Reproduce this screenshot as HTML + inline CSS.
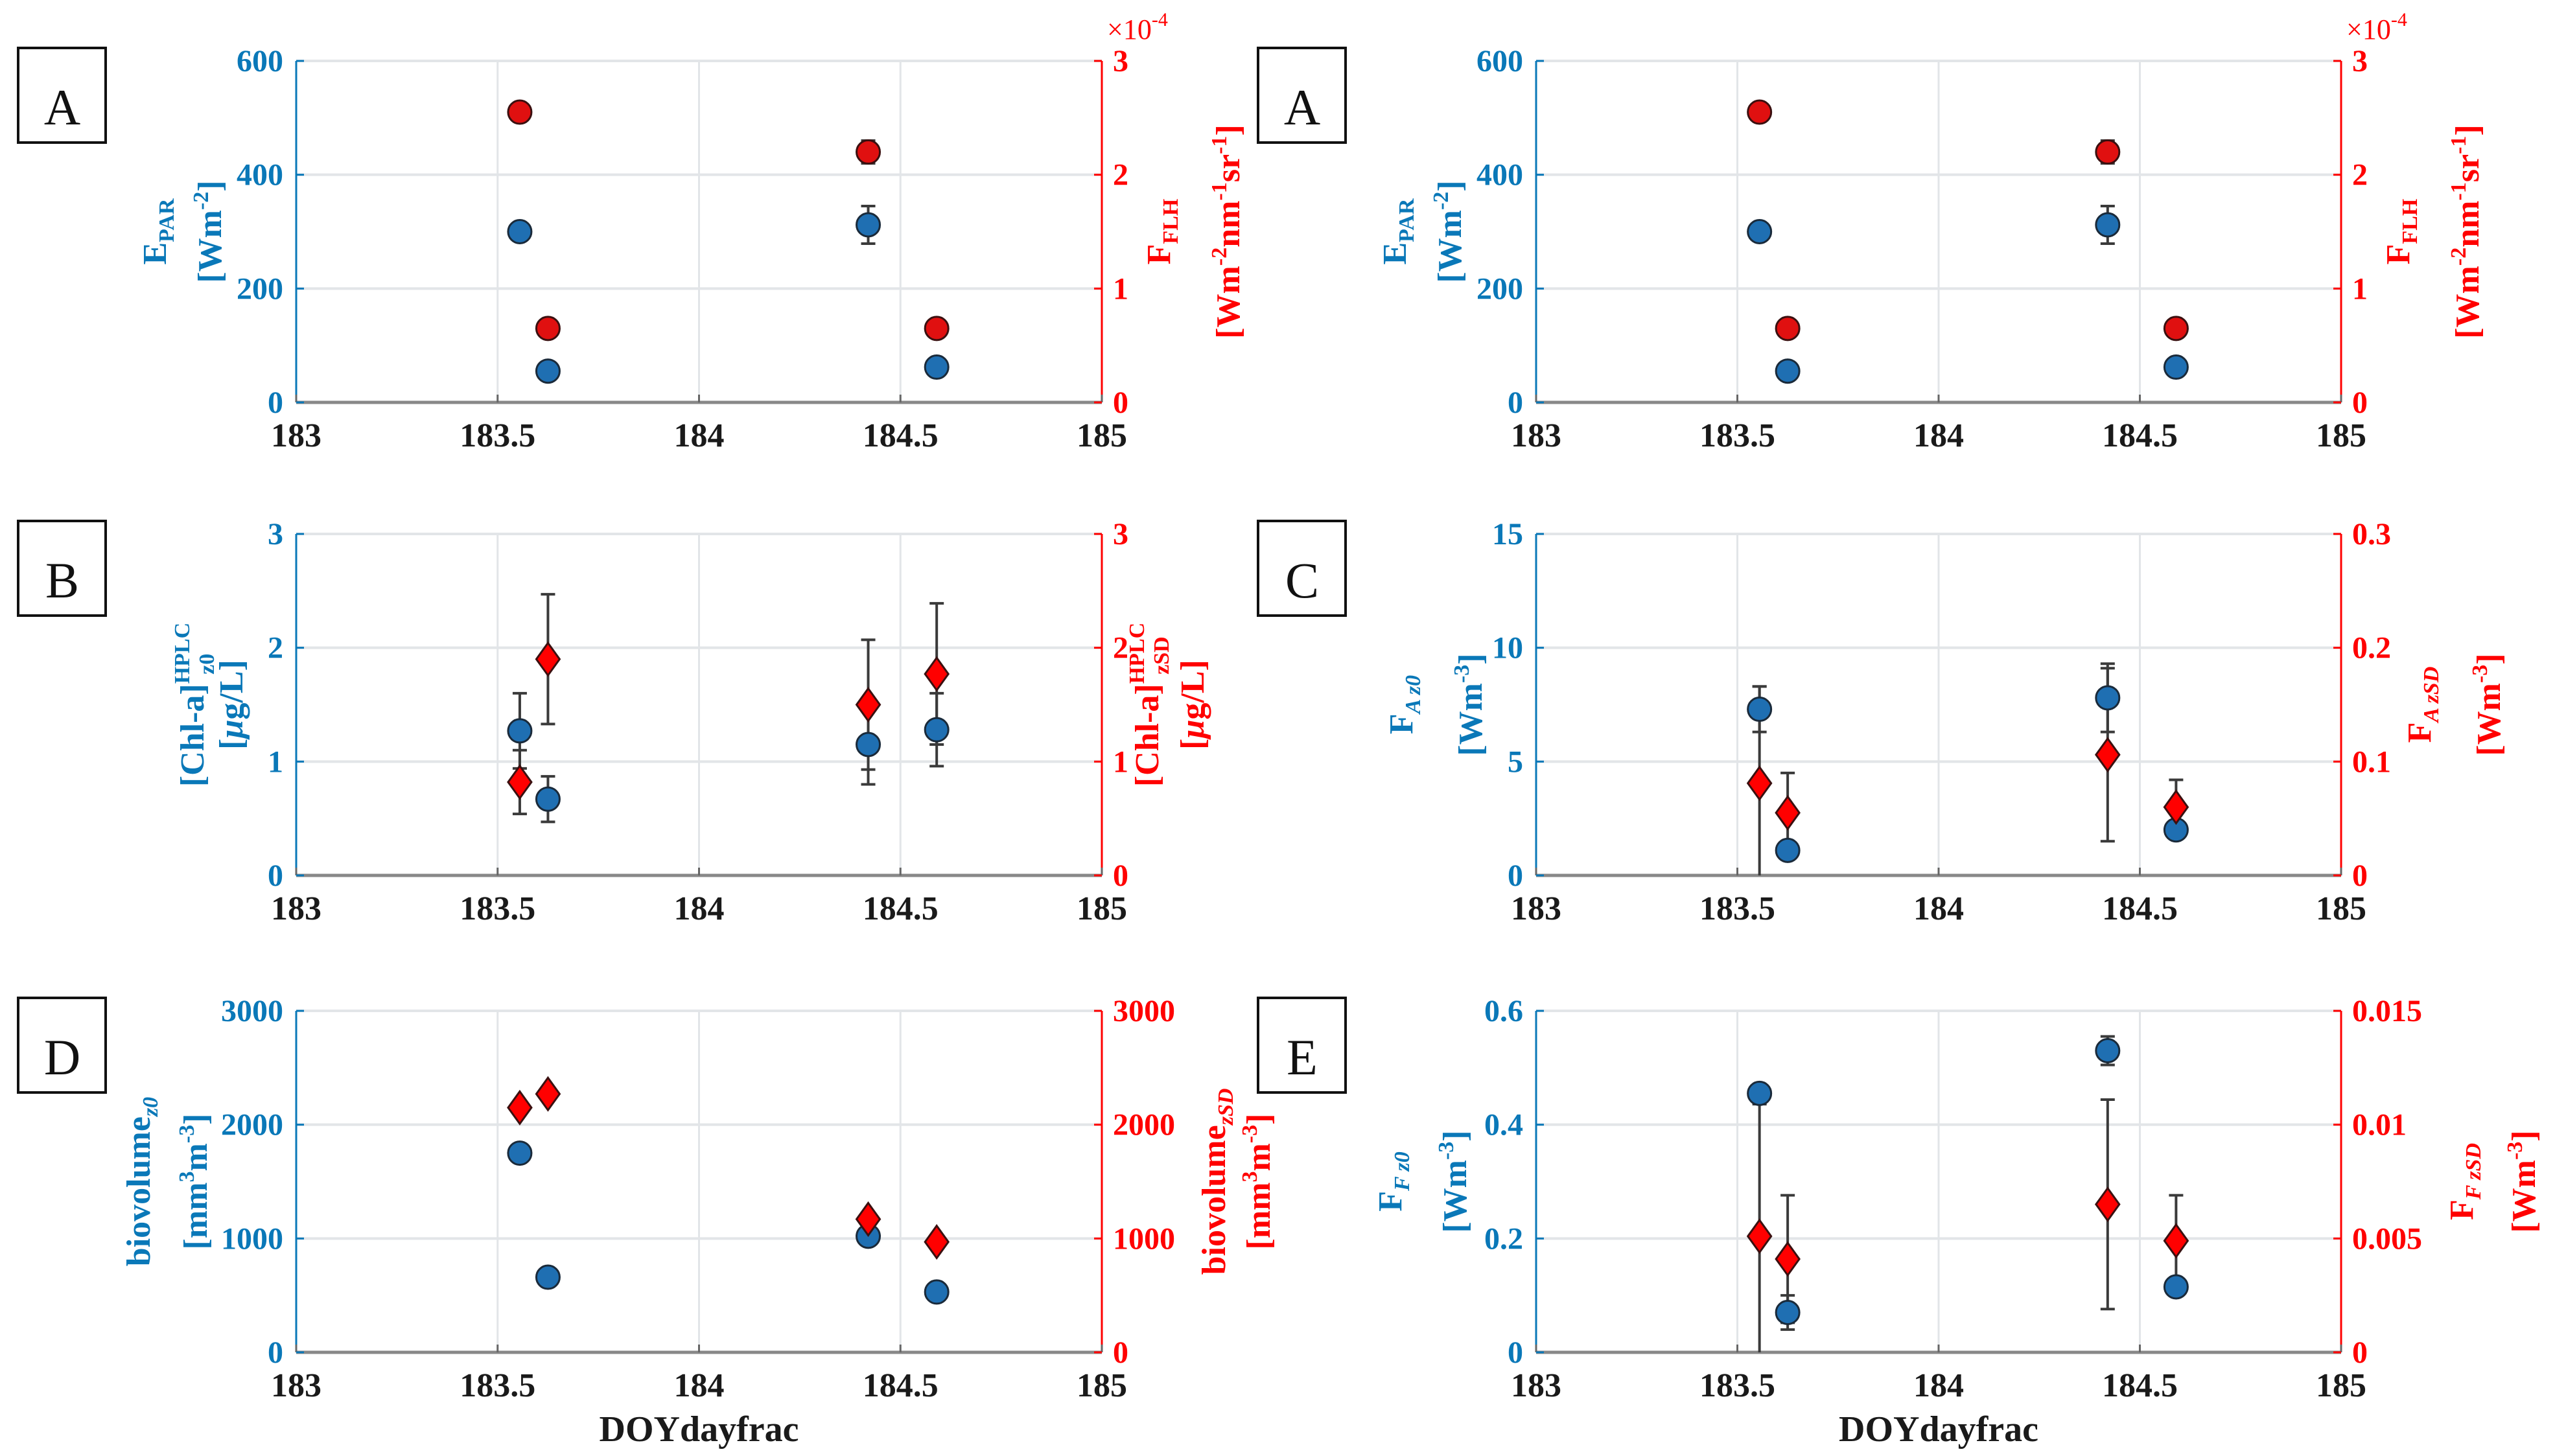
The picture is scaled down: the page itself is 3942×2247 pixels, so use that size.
<!DOCTYPE html>
<html>
<head>
<meta charset="utf-8">
<style>
html,body{margin:0;padding:0;background:#fff;}
svg{display:block;}
svg text{font-family:"Liberation Serif","Times New Roman",serif;}
</style>
</head>
<body>
<svg id="fig" xmlns="http://www.w3.org/2000/svg" width="3942" height="2247" viewBox="0 0 3942 2247" font-family="Liberation Serif, serif">
<rect x="0" y="0" width="3942" height="2247" fill="#ffffff"/>
</svg>
<script>
// ---------- data ----------
const xCats = [183.555, 183.625, 184.42, 184.59];
const xTicks = [183, 183.5, 184, 184.5, 185];
const xTickLabels = ["183", "183.5", "184", "184.5", "185"];

// Panel A (E_PAR, F_FLH)
const aBlueVals = [300, 55, 312, 62];
const aBlueErr = [0, 0, 33, 0];
const aRedVals = [2.55, 0.65, 2.2, 0.65];
const aRedErr = [0, 0, 0.1, 0];
const aLeftTicks = [0, 200, 400, 600];
const aRightTicks = [0, 1, 2, 3];

// Panel B (Chl-a)
const bBlueVals = [1.27, 0.67, 1.15, 1.28];
const bBlueErr = [0.33, 0.2, 0.35, 0.32];
const bRedVals = [0.82, 1.9, 1.5, 1.77];
const bRedErr = [0.28, 0.57, 0.57, 0.62];
const bLeftTicks = [0, 1, 2, 3];
const bRightTicks = [0, 1, 2, 3];

// Panel C (F_A)
const cBlueVals = [7.3, 1.1, 7.8, 2.0];
const cBlueErr = [1.0, 0.3, 1.5, 0.3];
const cRedVals = [0.081, 0.055, 0.106, 0.06];
const cRedErr = [0.085, 0.035, 0.076, 0.024];
const cLeftTicks = [0, 5, 10, 15];
const cRightTicks = [0, 0.1, 0.2, 0.3];

// Panel D (biovolume)
const dBlueVals = [1750, 660, 1020, 530];
const dBlueErr = [0, 0, 0, 0];
const dRedVals = [2150, 2270, 1170, 970];
const dRedErr = [0, 0, 0, 0];
const dLeftTicks = [0, 1000, 2000, 3000];
const dRightTicks = [0, 1000, 2000, 3000];

// Panel E (F_F)
const eBlueVals = [0.455, 0.07, 0.53, 0.115];
const eBlueErr = [0, 0.03, 0.025, 0.01];
const eRedVals = [0.0051, 0.0041, 0.0065, 0.0049];
const eRedErr = [0.0058, 0.0028, 0.0046, 0.002];
const eLeftTicks = [0, 0.2, 0.4, 0.6];
const eRightTicks = [0, 0.005, 0.01, 0.015];

// ---------- drawing ----------
const NS = "http://www.w3.org/2000/svg";
const svg = document.getElementById("fig");
const BLUE = "#0a78b8", RED = "#ff0000";
const H = 527;
const FF = '"Liberation Serif", "Times New Roman", serif';

function mk(tag, attrs, parent) {
  const e = document.createElementNS(NS, tag);
  for (const k in attrs) e.setAttribute(k, attrs[k]);
  if (tag === "text") e.style.fontFamily = FF;
  (parent || svg).appendChild(e);
  return e;
}

const panels = [
  {id:"a-left", letter:"A", x0:457, x1:1700, top:94, blue:aBlueVals, blueErr:aBlueErr, red:aRedVals, redErr:aRedErr, lt:aLeftTicks, rt:aRightTicks, redShape:"circle",
   l1:'E<tspan font-size="34" dy="12">PAR</tspan>', l2:'[Wm<tspan font-size="34" dy="-20">-2</tspan><tspan dy="20">]</tspan>',
   r1:'F<tspan font-size="34" dy="12">FLH</tspan>', r2:'[Wm<tspan font-size="34" dy="-20">-2</tspan><tspan dy="20">nm</tspan><tspan font-size="34" dy="-20">-1</tspan><tspan dy="20">sr</tspan><tspan font-size="34" dy="-20">-1</tspan><tspan dy="20">]</tspan>',
   lo:[-218,-133], ro:[88,195], exp:true},
  {id:"a-right", letter:"A", x0:2370, x1:3612, top:94, blue:aBlueVals, blueErr:aBlueErr, red:aRedVals, redErr:aRedErr, lt:aLeftTicks, rt:aRightTicks, redShape:"circle",
   l1:'E<tspan font-size="34" dy="12">PAR</tspan>', l2:'[Wm<tspan font-size="34" dy="-20">-2</tspan><tspan dy="20">]</tspan>',
   r1:'F<tspan font-size="34" dy="12">FLH</tspan>', r2:'[Wm<tspan font-size="34" dy="-20">-2</tspan><tspan dy="20">nm</tspan><tspan font-size="34" dy="-20">-1</tspan><tspan dy="20">sr</tspan><tspan font-size="34" dy="-20">-1</tspan><tspan dy="20">]</tspan>',
   lo:[-218,-133], ro:[88,195], exp:true},
  {id:"b", letter:"B", x0:457, x1:1700, top:824, blue:bBlueVals, blueErr:bBlueErr, red:bRedVals, redErr:bRedErr, lt:bLeftTicks, rt:bRightTicks, redShape:"diamond",
   l1:'[Chl-a]<tspan font-size="34" dy="-22">HPLC</tspan><tspan font-size="34" dx="-80" dy="38">z0</tspan>', l2:'[<tspan font-style="italic">μ</tspan>g/L]',
   r1:'[Chl-a]<tspan font-size="34" dy="-22">HPLC</tspan><tspan font-size="34" dx="-80" dy="38">zSD</tspan>', r2:'[<tspan font-style="italic">μ</tspan>g/L]',
   lo:[-160,-100], ro:[70,140]},
  {id:"c", letter:"C", x0:2370, x1:3612, top:824, blue:cBlueVals, blueErr:cBlueErr, red:cRedVals, redErr:cRedErr, lt:cLeftTicks, rt:cRightTicks, redShape:"diamond",
   l1:'F<tspan font-size="34" dy="12" font-style="italic">A z0</tspan>', l2:'[Wm<tspan font-size="34" dy="-20">-3</tspan><tspan dy="20">]</tspan>',
   r1:'F<tspan font-size="34" dy="12" font-style="italic">A zSD</tspan>', r2:'[Wm<tspan font-size="34" dy="-20">-3</tspan><tspan dy="20">]</tspan>',
   lo:[-208,-101], ro:[121,228]},
  {id:"d", letter:"D", x0:457, x1:1700, top:1560, blue:dBlueVals, blueErr:dBlueErr, red:dRedVals, redErr:dRedErr, lt:dLeftTicks, rt:dRightTicks, redShape:"diamond",
   l1:'biovolume<tspan font-size="34" dy="12" font-style="italic">z0</tspan>', l2:'[mm<tspan font-size="34" dy="-20">3</tspan><tspan dy="20">m</tspan><tspan font-size="34" dy="-20">-3</tspan><tspan dy="20">]</tspan>',
   r1:'biovolume<tspan font-size="34" dy="12" font-style="italic">zSD</tspan>', r2:'[mm<tspan font-size="34" dy="-20">3</tspan><tspan dy="20">m</tspan><tspan font-size="34" dy="-20">-3</tspan><tspan dy="20">]</tspan>',
   lo:[-243,-155], ro:[173,242], xlab:true},
  {id:"e", letter:"E", x0:2370, x1:3612, top:1560, blue:eBlueVals, blueErr:eBlueErr, red:eRedVals, redErr:eRedErr, lt:eLeftTicks, rt:eRightTicks, redShape:"diamond",
   l1:'F<tspan font-size="34" dy="12" font-style="italic">F z0</tspan>', l2:'[Wm<tspan font-size="34" dy="-20">-3</tspan><tspan dy="20">]</tspan>',
   r1:'F<tspan font-size="34" dy="12" font-style="italic">F zSD</tspan>', r2:'[Wm<tspan font-size="34" dy="-20">-3</tspan><tspan dy="20">]</tspan>',
   lo:[-225,-125], ro:[186,282], xlab:true}
];

panels.forEach(p => {
  const g = mk("g", {});
  
  
  const bottom = p.top + H;
  const xs = v => p.x0 + (v - xTicks[0]) / (xTicks[xTicks.length-1] - xTicks[0]) * (p.x1 - p.x0);
  const lMax = p.lt[p.lt.length-1], rMax = p.rt[p.rt.length-1];
  const yl = v => bottom - Math.max(0, Math.min(v, lMax)) / lMax * H;
  const yr = v => bottom - Math.max(0, Math.min(v, rMax)) / rMax * H;

  const box = mk("rect", {x: p.x0 - 429, y: p.top - 20, width: 135, height: 146, fill: "#fff", stroke: "#111", "stroke-width": 4}, g);
  
  
  const lt = mk("text", {x: p.x0 - 361, y: p.top + 80, "font-size": 78, "text-anchor": "middle", fill: "#111", "dominant-baseline": "middle"}, g);
  lt.textContent = p.letter;
  
  

  xTicks.slice(1, -1).forEach(t => {
    const l = mk("line", {x1: xs(t), x2: xs(t), y1: p.top, y2: bottom, stroke: "#e2e5e8", "stroke-width": 3}, g);
    
    
  });
  p.lt.slice(1).forEach(t => {
    const l = mk("line", {x1: p.x0, x2: p.x1, y1: yl(t), y2: yl(t), stroke: "#e2e5e8", "stroke-width": 4}, g);
    
    
  });

  const bx = mk("line", {x1: p.x0, x2: p.x1, y1: bottom, y2: bottom, stroke: "#888", "stroke-width": 5}, g);
  
  
  const la = mk("line", {x1: p.x0, x2: p.x0, y1: p.top, y2: bottom, stroke: BLUE, "stroke-width": 3}, g);
  
  
  const ra = mk("line", {x1: p.x1, x2: p.x1, y1: p.top, y2: bottom, stroke: RED, "stroke-width": 3}, g);
  
  

  xTicks.forEach((t, i) => {
    const tk = mk("line", {x1: xs(t), x2: xs(t), y1: bottom, y2: bottom - 12, stroke: "#666", "stroke-width": 3}, g);
    
    
    const tx = mk("text", {x: xs(t), y: bottom + 68, "font-size": 52, "text-anchor": "middle", fill: "#1a1a1a", "font-weight": "bold"}, g);
    tx.textContent = xTickLabels[i];
    
    
  });
  p.lt.forEach(t => {
    const tk = mk("line", {x1: p.x0, x2: p.x0 + 12, y1: yl(t), y2: yl(t), stroke: BLUE, "stroke-width": 3}, g);
    
    
    const tx = mk("text", {x: p.x0 - 20, y: yl(t) + 16, "font-size": 48, "text-anchor": "end", fill: BLUE, "font-weight": "bold"}, g);
    tx.textContent = String(t);
    
    
  });
  p.rt.forEach(t => {
    const tk = mk("line", {x1: p.x1 - 12, x2: p.x1, y1: yr(t), y2: yr(t), stroke: RED, "stroke-width": 3}, g);
    
    
    const tx = mk("text", {x: p.x1 + 17, y: yr(t) + 16, "font-size": 48, "text-anchor": "start", fill: RED, "font-weight": "bold"}, g);
    tx.textContent = String(t);
    
    
  });
  if (p.exp) {
    const ex = mk("text", {x: p.x1 + 8, y: p.top - 34, "font-size": 44, fill: RED}, g);
    ex.innerHTML = '×10<tspan font-size="30" dy="-20">-4</tspan>';
    
    
  }

  const cy = p.top + H / 2;
  [[p.l1, p.x0 + p.lo[0], BLUE, 'left-y-title-line1'], [p.l2, p.x0 + p.lo[1], BLUE, 'left-y-title-line2'],
   [p.r1, p.x1 + p.ro[0], RED, 'right-y-title-line1'], [p.r2, p.x1 + p.ro[1], RED, 'right-y-title-line2']].forEach(a => {
    const t = mk("text", {x: 0, y: 0, "font-size": 52, "font-weight": "bold", fill: a[2], "text-anchor": "middle", transform: `translate(${a[1] + 17},${cy}) rotate(-90)`}, g);
    t.innerHTML = a[0];
    
    
  });

  if (p.xlab) {
    const xl = mk("text", {x: (p.x0 + p.x1) / 2, y: 2224, "font-size": 56, "font-weight": "bold", "text-anchor": "middle", fill: "#1a1a1a"}, g);
    xl.textContent = "DOYdayfrac";
    
    
  }

  function errbar(x, v, e, ys, mx) {
    if (!e) return;
    const top = ys(v + e), bot = ys(v - e);
    const eg = mk("g", {stroke: "#3a3a3a", "stroke-width": 4}, g);
    
    
    mk("line", {x1: x, x2: x, y1: top, y2: bot}, eg);
    if (v + e <= mx) mk("line", {x1: x - 11, x2: x + 11, y1: top, y2: top}, eg);
    if (v - e >= 0) mk("line", {x1: x - 11, x2: x + 11, y1: bot, y2: bot}, eg);
  }
  xCats.forEach((c, i) => {
    errbar(xs(c), p.blue[i], p.blueErr[i], yl, lMax);
    errbar(xs(c), p.red[i], p.redErr[i], yr, rMax);
  });
  xCats.forEach((c, i) => {
    const m = mk("circle", {cx: xs(c), cy: yl(p.blue[i]), r: 18, fill: "#1f6fb2", stroke: "#1a2a3a", "stroke-width": 3}, g);
    
    
  });
  xCats.forEach((c, i) => {
    const x = xs(c), y = yr(p.red[i]);
    let m;
    if (p.redShape === "circle") {
      m = mk("circle", {cx: x, cy: y, r: 18, fill: "#e01010", stroke: "#3a1010", "stroke-width": 3}, g);
    } else {
      m = mk("polygon", {points: `${x},${y - 25} ${x + 18},${y} ${x},${y + 25} ${x - 18},${y}`, fill: "#ff0000", stroke: "#3a1010", "stroke-width": 3}, g);
    }
    
    
  });
});
</script>
</body>
</html>
